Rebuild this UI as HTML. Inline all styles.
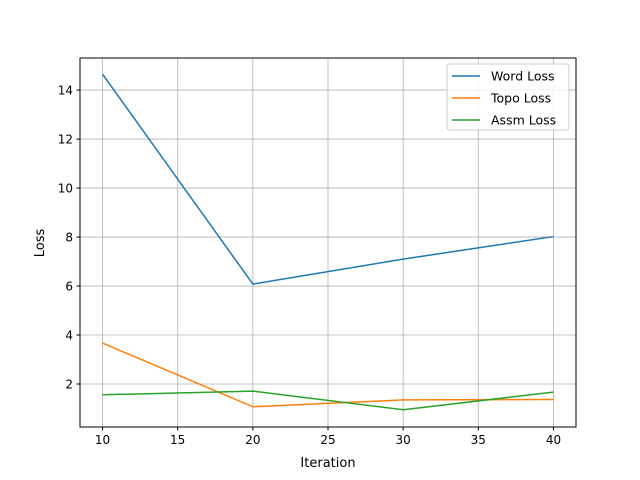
<!DOCTYPE html>
<html><head><meta charset="utf-8"><style>
body{margin:0;background:#fff}
svg{font-family:"DejaVu Sans","Liberation Sans",sans-serif;display:block}
</style></head><body>
<svg id="chart" width="640" height="480" xmlns="http://www.w3.org/2000/svg">
<rect width="640" height="480" fill="#fff"/>
<g id="grid"></g>
<g id="lines"></g>
<rect x="80" y="58" width="496" height="369" fill="none" stroke="#000" stroke-width="1"/>
<g id="ticks"></g>
<text x="328" y="467" font-size="13" text-anchor="middle">Iteration</text>
<text transform="translate(44,243) rotate(-90)" font-size="13" text-anchor="middle">Loss</text>
<g id="legend">
<rect x="447" y="64" width="122" height="66" rx="3" fill="#fff" fill-opacity="0.8" stroke="#ccc"/>
</g>
</svg>
<script>
const iterations=[10,20,30,40];
const wordLoss=[14.65,6.08,7.1,8.02];
const topoLoss=[3.67,1.07,1.35,1.37];
const assmLoss=[1.56,1.71,0.95,1.67];
const seriesNames=["Word Loss","Topo Loss","Assm Loss"];
const seriesColors=["#1f77b4","#ff7f0e","#2ca02c"];
const xTicks=[10,15,20,25,30,35,40];
const yTicks=[2,4,6,8,10,12,14];
const NS="http://www.w3.org/2000/svg";
const X0=80,X1=576,Y0=58,Y1=427;
const xmin=8.5,xmax=41.5,ymin=0.245,ymax=15.31;
const xs=v=>X0+(v-xmin)/(xmax-xmin)*(X1-X0);
const ys=v=>Y1-(v-ymin)/(ymax-ymin)*(Y1-Y0);
function mk(tag,attrs,parent){const e=document.createElementNS(NS,tag);for(const k in attrs)e.setAttribute(k,attrs[k]);parent.appendChild(e);return e;}
const grid=document.getElementById('grid'),ticks=document.getElementById('ticks'),lines=document.getElementById('lines'),legend=document.getElementById('legend');
xTicks.forEach(t=>{const x=xs(t);
 const g=mk('line',{x1:x,x2:x,y1:Y0,y2:Y1,stroke:'#b0b0b0','stroke-width':0.8},grid);
 
 mk('line',{x1:x,x2:x,y1:Y1,y2:Y1+3.5,stroke:'#000'},ticks);
 const l=mk('text',{x:x,y:Y1+17,'font-size':12,'text-anchor':'middle'},ticks);l.textContent=t;
 });
yTicks.forEach(t=>{const y=ys(t);
 const g=mk('line',{x1:X0,x2:X1,y1:y,y2:y,stroke:'#b0b0b0','stroke-width':0.8},grid);
 
 mk('line',{x1:X0-3.5,x2:X0,y1:y,y2:y,stroke:'#000'},ticks);
 const l=mk('text',{x:X0-7,y:y+4.5,'font-size':12,'text-anchor':'end'},ticks);l.textContent=t;
 });
[wordLoss,topoLoss,assmLoss].forEach((s,i)=>{
 const p=mk('polyline',{points:s.map((v,j)=>xs(iterations[j])+','+ys(v)).join(' '),fill:'none',stroke:seriesColors[i],'stroke-width':1.5},lines);
 
 const y=76+i*22;
 mk('line',{x1:452,x2:480,y1:y,y2:y,stroke:seriesColors[i],'stroke-width':1.5},legend);
 const t=mk('text',{x:491,y:y+4.5,'font-size':12.5},legend);t.textContent=seriesNames[i];
 
});
</script>
</body></html>
